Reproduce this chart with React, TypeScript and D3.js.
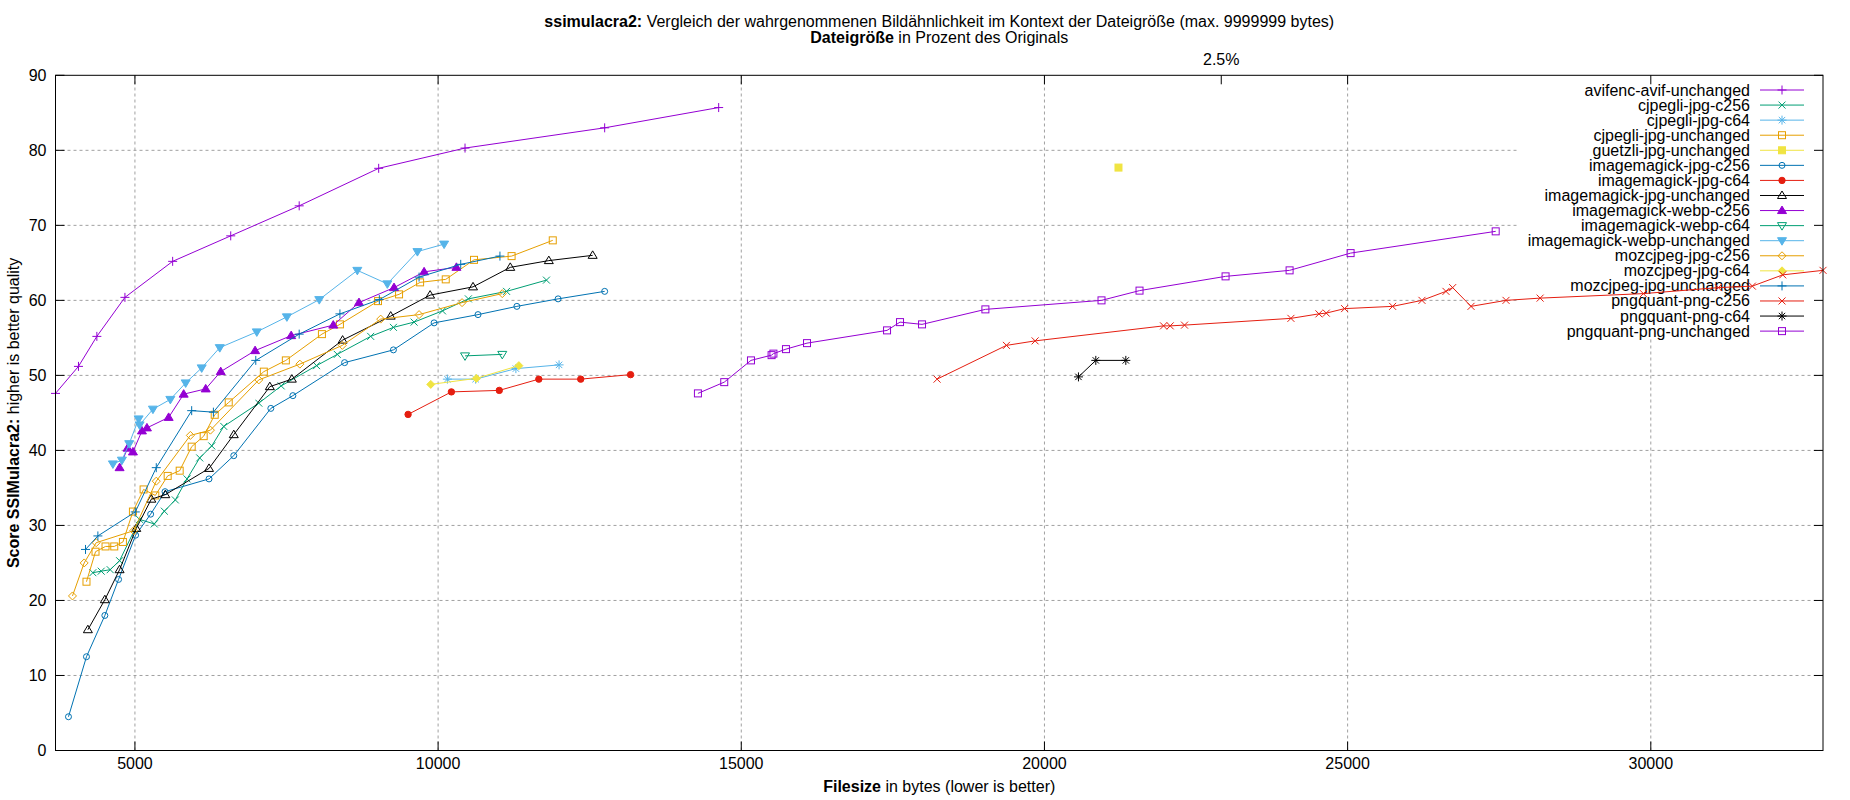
import React from 'react';
import * as d3 from 'd3';

// ---- data (filesize in bytes, ssimulacra2 score) ----
const avifAvifUnchanged = [[3690,47.6],[4069,51.2],[4372,55.2],[4835,60.4],[5622,65.2],[6580,68.6],[7709,72.6],[9020,77.6],[10444,80.3],[12747,83.0],[14627,85.7]];
const cjpegliC256 = [[4306,23.7],[4444,23.9],[4592,24.1],[4747,25.3],[5077,30.8],[5319,30.2],[5485,31.9],[5666,33.4],[5859,36.2],[6068,39.0],[6267,40.6],[6465,43.2],[7043,46.3],[7412,48.6],[7996,51.3],[8337,52.8],[8888,55.2],[9263,56.4],[9604,57.1],[10072,58.6],[10499,60.2],[11129,61.2],[11787,62.7]];
const cjpegliC64 = [[10153,49.5],[10619,49.5],[11283,50.9],[11995,51.4]];
const cjpegliUnchanged = [[4201,22.5],[4350,26.5],[4515,27.2],[4659,27.2],[4802,27.8],[4967,31.85],[5143,34.8],[5336,34.0],[5540,36.6],[5738,37.3],[5936,40.5],[6134,41.9],[6316,44.75],[6547,46.4],[7126,50.5],[7489,52.0],[8084,55.5],[8381,56.8],[9009,59.9],[9356,60.8],[9703,62.4],[10126,62.8],[10592,65.4],[11212,65.9],[11891,68.0]];
const guetzliUnchanged = [[21221,77.7]];
const imJpgC256 = [[3904,4.5],[4201,12.5],[4504,18.0],[4730,22.8],[5011,28.7],[5259,31.5],[5496,34.5],[6222,36.2],[6630,39.3],[7241,45.6],[7605,47.3],[8458,51.7],[9263,53.4],[9934,57.0],[10658,58.1],[11299,59.2],[11979,60.2],[12747,61.2]];
const imJpgC64 = [[9505,44.8],[10219,47.8],[11009,48.0],[11661,49.5],[12352,49.5],[13174,50.1]];
const imJpgUnchanged = [[4224,16.1],[4504,20.1],[4747,24.1],[5022,29.6],[5270,33.5],[5501,34.1],[6222,37.6],[6630,42.1],[7225,48.5],[7588,49.5],[8425,54.7],[9218,57.9],[9868,60.7],[10576,61.8],[11190,64.4],[11826,65.3],[12549,66.0]];
const imWebpC256 = [[4747,37.7],[4879,40.3],[4967,39.8],[5116,42.6],[5198,43.0],[5556,44.4],[5804,47.5],[6167,48.2],[6415,50.5],[6982,53.3],[7577,55.3],[8271,56.7],[8695,59.7],[9273,61.7],[9769,63.8],[10302,64.4]];
const imWebpC64 = [[10444,52.6],[11058,52.8]];
const imWebpUnchanged = [[4637,38.2],[4785,38.7],[4906,40.9],[5061,44.2],[5077,43.4],[5297,45.5],[5584,46.8],[5837,49.0],[6101,51.0],[6399,53.7],[7010,55.8],[7506,57.8],[8040,60.1],[8668,64.0],[9163,62.2],[9659,66.5],[10099,67.5]];
const mozC256 = [[3970,20.6],[4163,25.0],[4361,27.7],[4980,29.3],[5352,35.9],[5914,42.0],[6245,42.7],[7043,49.4],[7720,51.5],[8420,54.0],[9053,57.5],[9686,58.1],[10395,59.7],[11058,60.9]];
const mozC64 = [[9879,48.8],[10630,49.6],[11332,51.3]];
const mozUnchanged = [[4185,26.8],[4389,28.6],[5006,31.8],[5352,37.7],[5936,45.3],[6294,45.1],[6993,52.0],[7709,55.5],[8381,58.2],[9031,60.1],[9686,63.1],[10373,64.8],[11020,65.9]];
const pngquantC256 = [[18229,49.5],[19373,54.0],[19846,54.6],[21964,56.6],[22074,56.6],[22310,56.7],[24065,57.6],[24527,58.2],[24648,58.3],[24950,58.9],[25742,59.2],[26226,60.0],[26622,61.2],[26732,61.7],[27035,59.2],[27612,60.0],[28175,60.3],[29878,60.9],[31114,61.7],[31675,61.9],[32176,63.4],[32840,64.0]];
const pngquantC64 = [[20561,49.8],[20847,52.0],[21342,52.0]];
const pngquantUnchanged = [[14285,47.6],[14719,49.1],[15160,52.0],[15500,52.7],[15530,52.9],[15737,53.5],[16084,54.3],[17404,56.0],[17618,57.1],[17981,56.8],[19026,58.8],[20941,60.0],[21568,61.3],[22987,63.2],[24043,64.0],[25049,66.3],[27442,69.2]];

const seriesNames = [
  'avifenc-avif-unchanged', 'cjpegli-jpg-c256', 'cjpegli-jpg-c64', 'cjpegli-jpg-unchanged',
  'guetzli-jpg-unchanged', 'imagemagick-jpg-c256', 'imagemagick-jpg-c64', 'imagemagick-jpg-unchanged',
  'imagemagick-webp-c256', 'imagemagick-webp-c64', 'imagemagick-webp-unchanged', 'mozcjpeg-jpg-c256',
  'mozcjpeg-jpg-c64', 'mozcjpeg-jpg-unchanged', 'pngquant-png-c256', 'pngquant-png-c64', 'pngquant-png-unchanged',
];
const seriesValues = [
  avifAvifUnchanged, cjpegliC256, cjpegliC64, cjpegliUnchanged, guetzliUnchanged, imJpgC256, imJpgC64,
  imJpgUnchanged, imWebpC256, imWebpC64, imWebpUnchanged, mozC256, mozC64, mozUnchanged,
  pngquantC256, pngquantC64, pngquantUnchanged,
];

const xTicks = [5000, 10000, 15000, 20000, 25000, 30000];
const yTicks = [0, 10, 20, 30, 40, 50, 60, 70, 80, 90];
const x2Ticks = [{ value: 22916, label: '2.5%' }];

// gnuplot default line colours and point types
const palette = ['#9400d3', '#009e73', '#56b4e9', '#e69f00', '#f0e442', '#0072b2', '#e51e10', '#000000'];
const markerTypes = ['plus', 'cross', 'star', 'box', 'boxF', 'circle', 'circleF', 'tri', 'triF', 'triD', 'triDF', 'diamond', 'diamondF'];

const W = 1850;
const H = 800;
const margin = { top: 75.3, right: W - 1823, bottom: H - 750.5, left: 55.5 };
const FONT = '"Liberation Sans", Arial, sans-serif';

function Marker({ type, x, y, color }: { type: string; x: number; y: number; color: string }) {
  const t = `translate(${x},${y})`;
  const s = { stroke: color, strokeWidth: 1 };
  switch (type) {
    case 'plus':
      return <path transform={t} d="M-4.5,0H4.5M0,-4.5V4.5" fill="none" {...s} />;
    case 'cross':
      return <path transform={t} d="M-3.5,-3.5L3.5,3.5M-3.5,3.5L3.5,-3.5" fill="none" {...s} />;
    case 'star':
      return <path transform={t} d="M-4.5,0H4.5M0,-4.5V4.5M-3.2,-3.2L3.2,3.2M-3.2,3.2L3.2,-3.2" fill="none" {...s} />;
    case 'box':
      return <rect transform={t} x={-3.5} y={-3.5} width={7} height={7} fill="none" {...s} />;
    case 'boxF':
      return <rect transform={t} x={-3.5} y={-3.5} width={7} height={7} fill={color} {...s} />;
    case 'circle':
      return <circle transform={t} r={3} fill="none" {...s} />;
    case 'circleF':
      return <circle transform={t} r={3.2} fill={color} {...s} />;
    case 'tri':
      return <path transform={t} d="M0,-4.5L4.5,3L-4.5,3Z" fill="none" {...s} />;
    case 'triF':
      return <path transform={t} d="M0,-4.5L4.5,3L-4.5,3Z" fill={color} {...s} />;
    case 'triD':
      return <path transform={t} d="M0,4.5L4.5,-3L-4.5,-3Z" fill="none" {...s} />;
    case 'triDF':
      return <path transform={t} d="M0,4.5L4.5,-3L-4.5,-3Z" fill={color} {...s} />;
    case 'diamond':
      return <path transform={t} d="M0,-4L4,0L0,4L-4,0Z" fill="none" {...s} />;
    case 'diamondF':
      return <path transform={t} d="M0,-4L4,0L0,4L-4,0Z" fill={color} {...s} />;
    default:
      return null;
  }
}

export default function App() {
  const x = d3.scaleLinear().domain([3690, 32840]).range([margin.left, W - margin.right]);
  const y = d3.scaleLinear().domain([0, 90]).range([H - margin.bottom, margin.top]);
  const line = d3.line<number[]>().x((d) => x(d[0])).y((d) => y(d[1]));

  const x0 = margin.left;
  const x1 = W - margin.right;
  const y0 = H - margin.bottom;
  const y1 = margin.top;
  const tick = 9;
  const plotCx = (x0 + x1) / 2;
  const plotCy = (y0 + y1) / 2;

  // legend geometry
  const legendRight = 1750;
  const legendTop = 90;
  const legendStep = 15.07;
  const keyBoxLeft = 1517;
  const keyBoxBottom = legendTop + legendStep * (seriesNames.length - 1) + 7;

  return (
    <svg width={W} height={H} style={{ position: 'absolute', left: 0, top: 0, background: '#fff' }} fontFamily={FONT} fontSize={16}>
      <rect width={W} height={H} fill="#fff" />

      {/* grid */}
      <g stroke="#a0a0a0" strokeWidth={1} strokeDasharray="3,3">
        {yTicks.filter((v) => v > 0 && v < 90).map((v) => (
          <line key={`gy${v}`} x1={x0} x2={x1} y1={y(v)} y2={y(v)} />
        ))}
        {xTicks.map((v) => (
          <line key={`gx${v}`} x1={x(v)} x2={x(v)} y1={y0} y2={y1} />
        ))}
      </g>

      {/* opaque key area */}
      <rect x={keyBoxLeft} y={y1 + 0.5} width={x1 - keyBoxLeft - 0.5} height={keyBoxBottom - y1} fill="#fff" />

      {/* ticks */}
      <g stroke="#000" strokeWidth={1}>
        {yTicks.map((v) => (
          <g key={`ty${v}`}>
            <line x1={x0} x2={x0 + tick} y1={y(v)} y2={y(v)} />
            <line x1={x1} x2={x1 - tick} y1={y(v)} y2={y(v)} />
          </g>
        ))}
        {xTicks.map((v) => (
          <g key={`tx${v}`}>
            <line x1={x(v)} x2={x(v)} y1={y0} y2={y0 - tick} />
            <line x1={x(v)} x2={x(v)} y1={y1} y2={y1 + tick} />
          </g>
        ))}
        {x2Ticks.map((t) => (
          <line key={`tx2${t.label}`} x1={x(t.value)} x2={x(t.value)} y1={y1} y2={y1 + tick} />
        ))}
      </g>

      {/* tick labels */}
      <g fill="#000">
        {yTicks.map((v) => (
          <text key={`ly${v}`} x={x0 - 9} y={y(v)} textAnchor="end" dominantBaseline="central">{v}</text>
        ))}
        {xTicks.map((v) => (
          <text key={`lx${v}`} x={x(v)} y={763} textAnchor="middle" dominantBaseline="central">{v}</text>
        ))}
        {x2Ticks.map((t) => (
          <text key={`lx2${t.label}`} x={x(t.value)} y={59} textAnchor="middle" dominantBaseline="central">{t.label}</text>
        ))}
      </g>

      {/* titles */}
      <text x={plotCx} y={21} textAnchor="middle" dominantBaseline="central">
        <tspan fontWeight="bold">ssimulacra2:</tspan> Vergleich der wahrgenommenen Bildähnlichkeit im Kontext der Dateigröße (max. 9999999 bytes)
      </text>
      <text x={plotCx} y={37} textAnchor="middle" dominantBaseline="central">
        <tspan fontWeight="bold">Dateigröße</tspan> in Prozent des Originals
      </text>
      <text x={plotCx} y={786} textAnchor="middle" dominantBaseline="central">
        <tspan fontWeight="bold">Filesize</tspan> in bytes (lower is better)
      </text>
      <text transform={`translate(13,${plotCy}) rotate(-90)`} textAnchor="middle" dominantBaseline="central">
        <tspan fontWeight="bold">Score SSIMulacra2:</tspan> higher is better quality
      </text>

      {/* legend */}
      {seriesNames.map((name, i) => {
        const color = palette[i % palette.length];
        const ly = legendTop + i * legendStep;
        return (
          <g key={`leg${name}`}>
            <text x={legendRight} y={ly} textAnchor="end" dominantBaseline="central" fill="#000">{name}</text>
            <line x1={1760} x2={1804} y1={ly} y2={ly} stroke={color} strokeWidth={1} />
            <Marker type={markerTypes[i % markerTypes.length]} x={1782} y={ly} color={color} />
          </g>
        );
      })}

      {/* series */}
      {seriesValues.map((vals, i) => {
        const color = palette[i % palette.length];
        const type = markerTypes[i % markerTypes.length];
        return (
          <g key={`s${i}`}>
            {vals.length > 1 && <path d={line(vals) || ''} fill="none" stroke={color} strokeWidth={1} />}
            {vals.map((d, j) => (
              <Marker key={j} type={type} x={x(d[0])} y={y(d[1])} color={color} />
            ))}
          </g>
        );
      })}

      {/* border */}
      <rect x={x0} y={y1} width={x1 - x0} height={y0 - y1} fill="none" stroke="#000" strokeWidth={1} />
    </svg>
  );
}
